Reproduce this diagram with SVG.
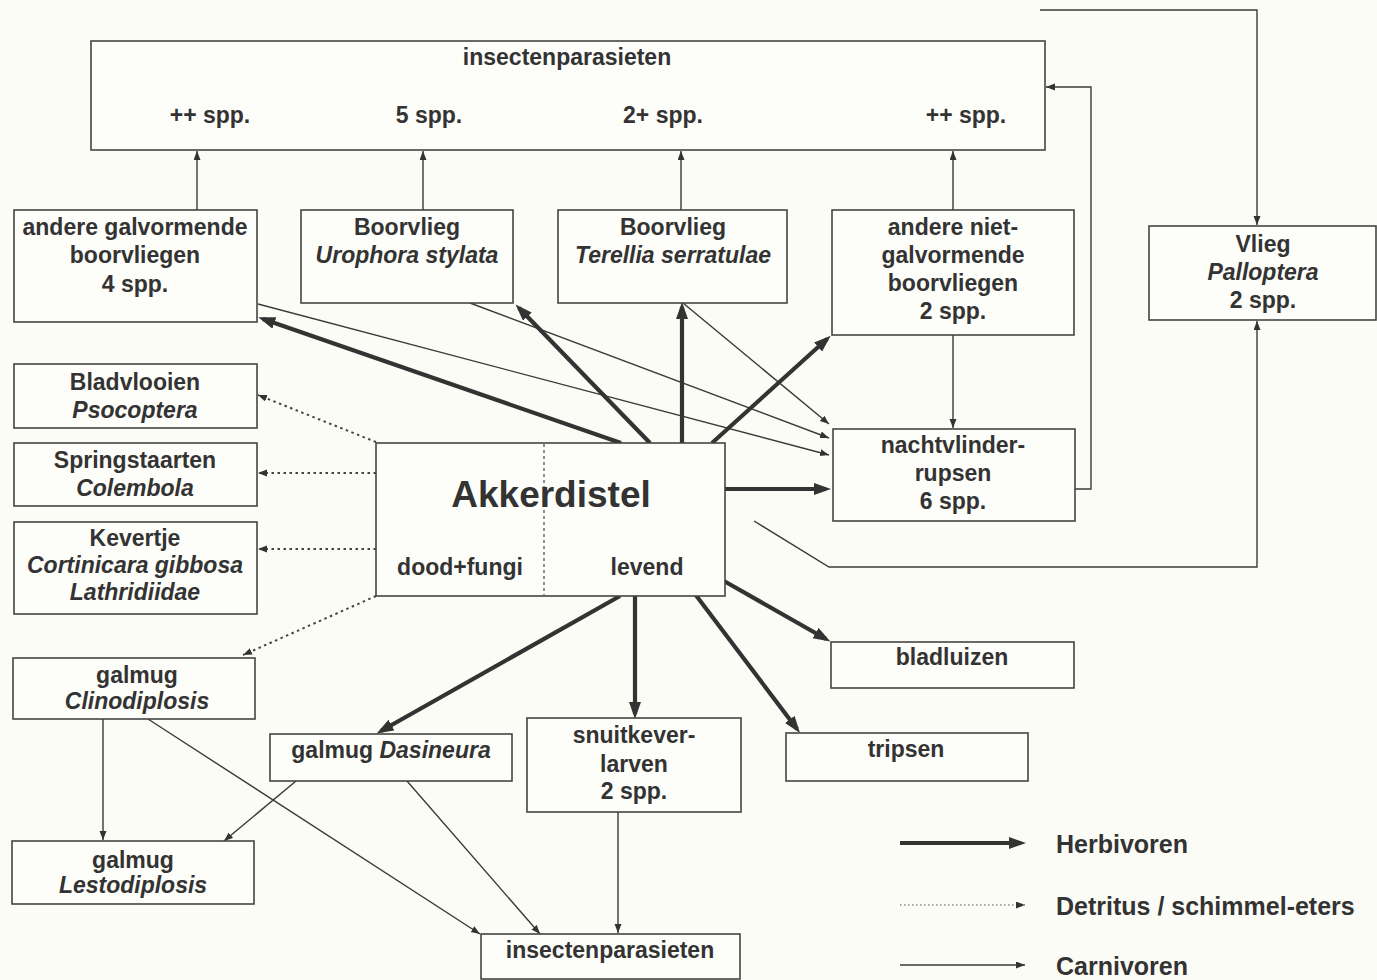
<svg xmlns="http://www.w3.org/2000/svg" width="1377" height="980" viewBox="0 0 1377 980">
<defs>
<style>
.bg{fill:#fcfcf7}
.box{fill:#fdfdf9;stroke:#444;stroke-width:1.6}
text{font-family:"Liberation Sans",Arial,sans-serif;font-weight:bold;font-size:23px;fill:#333;text-anchor:middle}
.it{font-style:italic}
.big{font-size:37px}
.leg{font-size:25px;text-anchor:start}
.thin{fill:none;stroke:#3a3a3a;stroke-width:1.4;marker-end:url(#ah)}
.thick{fill:none;stroke:#333;stroke-width:4.2;marker-end:url(#ahb)}
.dot{fill:none;stroke:#444;stroke-width:2;stroke-dasharray:2.5 3.5;marker-end:url(#ah)}
.dotleg{fill:none;stroke:#555;stroke-width:1.2;stroke-dasharray:1.5 2.5;marker-end:url(#ah)}
.div{stroke:#555;stroke-width:1.3;stroke-dasharray:3 3}
</style>
<marker id="ah" markerWidth="10" markerHeight="8" refX="9" refY="3.5" orient="auto" markerUnits="userSpaceOnUse"><path d="M0,0 L9,3.5 L0,7 z" fill="#333"/></marker>
<marker id="ahb" markerWidth="18" markerHeight="14" refX="12" refY="6" orient="auto" markerUnits="userSpaceOnUse"><path d="M0,0 L17,6 L0,12 z" fill="#333"/></marker>
</defs>
<rect class="bg" x="0" y="0" width="1377" height="980"/>

<g id="connectors">
<path class="thin" d="M197,210 V151"/>
<path class="thin" d="M423,210 V151"/>
<path class="thin" d="M681,210 V151"/>
<path class="thin" d="M953,210 V151"/>
<path class="thin" d="M953,335 V428"/>
<path class="thin" d="M1074,489 H1091 V87 H1046"/>
<path class="thin" d="M1040,10 H1257 V225"/>
<path class="thin" d="M754,521 L829,567 H1257 V321"/>
<path class="thin" d="M258,304 L829,455"/>
<path class="thin" d="M470,303 L829,438"/>
<path class="thin" d="M683,303 L829,424"/>
<path class="thin" d="M103,719 V840"/>
<path class="thin" d="M148,719 L480,934"/>
<path class="thin" d="M296,781 L224,841"/>
<path class="thin" d="M407,781 L540,934"/>
<path class="thin" d="M618,812 V933"/>
<path class="dot" d="M376,442 L258,395"/>
<path class="dot" d="M376,473 H258"/>
<path class="dot" d="M376,549 H258"/>
<path class="dot" d="M376,596 L243,655"/>
<path class="thick" d="M621,443 L263,319"/>
<path class="thick" d="M650,443 L519,308"/>
<path class="thick" d="M682,443 V307"/>
<path class="thick" d="M712,443 L827,339"/>
<path class="thick" d="M725,489 H826"/>
<path class="thick" d="M620,596 L381,731"/>
<path class="thick" d="M635,596 V714"/>
<path class="thick" d="M695,594 L797,729"/>
<path class="thick" d="M724,581 L826,639"/>
</g>

<g id="top-parasieten">
<rect class="box" x="91" y="41" width="954" height="109"/>
<text x="567" y="65">insectenparasieten</text>
<text x="210" y="123">++ spp.</text>
<text x="429" y="123">5 spp.</text>
<text x="663" y="123">2+ spp.</text>
<text x="966" y="123">++ spp.</text>
</g>

<g id="andere-galvormende">
<rect class="box" x="14" y="210" width="243" height="112"/>
<text x="135" y="235">andere galvormende</text>
<text x="135" y="263">boorvliegen</text>
<text x="135" y="292">4 spp.</text>
</g>

<g id="urophora">
<rect class="box" x="301" y="210" width="212" height="93"/>
<text x="407" y="235">Boorvlieg</text>
<text x="407" y="263" class="it">Urophora stylata</text>
</g>

<g id="terellia">
<rect class="box" x="558" y="210" width="229" height="93"/>
<text x="673" y="235">Boorvlieg</text>
<text x="673" y="263" class="it">Terellia serratulae</text>
</g>

<g id="andere-niet">
<rect class="box" x="832" y="210" width="242" height="125"/>
<text x="953" y="235">andere niet-</text>
<text x="953" y="263">galvormende</text>
<text x="953" y="291">boorvliegen</text>
<text x="953" y="319">2 spp.</text>
</g>

<g id="vlieg">
<rect class="box" x="1149" y="226" width="227" height="94"/>
<text x="1263" y="252">Vlieg</text>
<text x="1263" y="280" class="it">Palloptera</text>
<text x="1263" y="308">2 spp.</text>
</g>

<g id="bladvlooien">
<rect class="box" x="14" y="364" width="243" height="64"/>
<text x="135" y="390">Bladvlooien</text>
<text x="135" y="418" class="it">Psocoptera</text>
</g>

<g id="springstaarten">
<rect class="box" x="14" y="443" width="243" height="63"/>
<text x="135" y="468">Springstaarten</text>
<text x="135" y="496" class="it">Colembola</text>
</g>

<g id="kevertje">
<rect class="box" x="14" y="522" width="243" height="92"/>
<text x="135" y="546">Kevertje</text>
<text x="135" y="573" class="it">Cortinicara gibbosa</text>
<text x="135" y="600" class="it">Lathridiidae</text>
</g>

<g id="akkerdistel">
<rect class="box" x="376" y="443" width="349" height="153"/>
<line class="div" x1="544" y1="444" x2="544" y2="595"/>
<text x="551" y="507" class="big">Akkerdistel</text>
<text x="460" y="575">dood+fungi</text>
<text x="647" y="575">levend</text>
</g>

<g id="nachtvlinder">
<rect class="box" x="833" y="429" width="242" height="92"/>
<text x="953" y="453">nachtvlinder-</text>
<text x="953" y="481">rupsen</text>
<text x="953" y="509">6 spp.</text>
</g>

<g id="clinodiplosis">
<rect class="box" x="13" y="658" width="242" height="61"/>
<text x="137" y="683">galmug</text>
<text x="137" y="709" class="it">Clinodiplosis</text>
</g>

<g id="dasineura">
<rect class="box" x="270" y="734" width="242" height="47"/>
<text x="391" y="758">galmug <tspan class="it">Dasineura</tspan></text>
</g>

<g id="snuitkever">
<rect class="box" x="527" y="718" width="214" height="94"/>
<text x="634" y="743">snuitkever-</text>
<text x="634" y="772">larven</text>
<text x="634" y="799">2 spp.</text>
</g>

<g id="bladluizen">
<rect class="box" x="831" y="642" width="243" height="46"/>
<text x="952" y="665">bladluizen</text>
</g>

<g id="tripsen">
<rect class="box" x="786" y="733" width="242" height="48"/>
<text x="906" y="757">tripsen</text>
</g>

<g id="lestodiplosis">
<rect class="box" x="12" y="841" width="242" height="63"/>
<text x="133" y="868">galmug</text>
<text x="133" y="893" class="it">Lestodiplosis</text>
</g>

<g id="bottom-parasieten">
<rect class="box" x="481" y="934" width="259" height="45"/>
<text x="610" y="958">insectenparasieten</text>
</g>

<g id="legend">
<path class="thick" d="M900,843 H1021"/>
<path class="dotleg" d="M900,905 H1025"/>
<path class="thin" d="M900,965 H1025"/>
<text x="1056" y="853" class="leg">Herbivoren</text>
<text x="1056" y="915" class="leg">Detritus / schimmel-eters</text>
<text x="1056" y="975" class="leg">Carnivoren</text>
</g>
</svg>
